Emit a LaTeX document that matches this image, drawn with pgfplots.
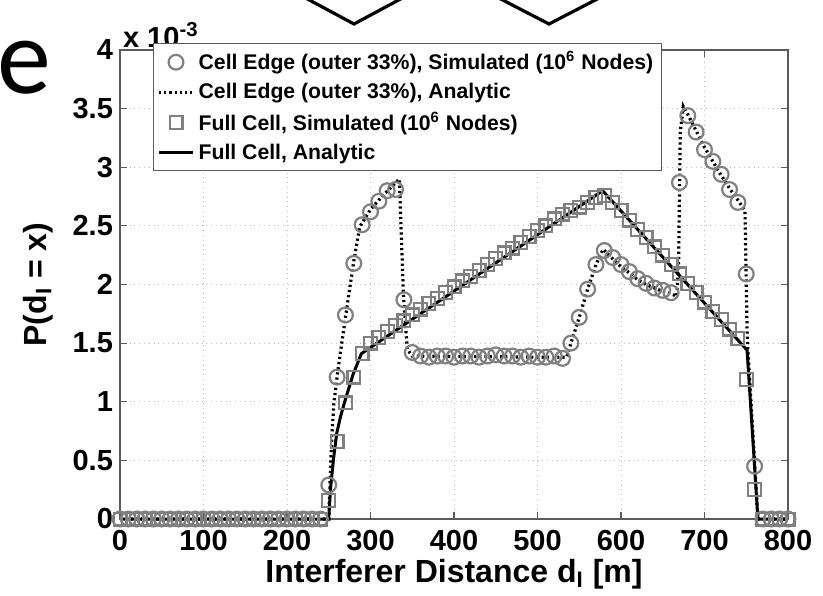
\documentclass[border=0pt]{standalone}
\usepackage{pgfplots}
\pgfplotsset{compat=1.18}
\usepackage{fontspec}
\setmainfont{Liberation Sans}
\newfontfamily\slidefont{Carlito}
\definecolor{mgrey}{RGB}{128,128,128}
\definecolor{axgrey}{RGB}{90,90,90}
\begin{document}
\begin{tikzpicture}
\begin{scope}[x=0.5pt,y=0.5pt]
\useasboundingbox (0,0) rectangle (823,593);
\draw[line width=1.6pt] (300,598) -- (354,569) -- (408,598);
\draw[line width=1.6pt] (493,598) -- (549,569) -- (605,598);
\node[anchor=base west, inner sep=0pt, font=\slidefont\fontsize{54}{54}\selectfont] at (-3,500) {e};
\end{scope}
\begin{axis}[
  at={(60pt,37pt)}, anchor=south west,
  width=334pt, height=234.5pt, scale only axis,
  xmin=0, xmax=800, ymin=0, ymax=4,
  xtick={0,100,...,800}, ytick={0,0.5,...,4},
  clip=false,
  tick align=inside, major tick length=3.5pt,
  grid=major, major grid style={dotted, gray!55, line width=0.5pt},
  axis line style={axgrey, line width=0.7pt},
  every tick/.style={axgrey, line width=0.6pt},
  tick label style={font=\fontsize{14.5}{14.5}\selectfont\bfseries, text=black},
  xticklabel style={yshift=-2pt},
  /pgf/number format/assume math mode=true,
  xlabel={Interferer Distance d\textsubscript{I} [m]},
  ylabel={P(d\textsubscript{I} = x)},
  label style={font=\fontsize{16}{16}\selectfont\bfseries},
  xlabel style={at={(axis description cs:0.5,-0.118)}, anchor=center},
  ylabel style={at={(axis description cs:-0.123,0.5)}, anchor=center, rotate=0},
  legend cell align=left,
  legend style={at={(0.049,1.015)}, anchor=north west, draw=axgrey, line width=0.6pt,
    font=\fontsize{10.6}{12}\selectfont\bfseries, row sep=1.2pt, inner sep=2pt},
]
\addplot[only marks, mark=o, mark size=3.7pt, mark options={draw=mgrey, line width=1.1pt}] coordinates {
(0,0)(10,0)(20,0)(30,0)(40,0)(50,0)(60,0)(70,0)(80,0)(90,0)(100,0)(110,0)(120,0)(130,0)(140,0)(150,0)(160,0)(170,0)(180,0)(190,0)(200,0)(210,0)(220,0)(230,0)(240,0)
(250,0.29)(260,1.21)(270,1.74)(280,2.18)(290,2.51)(300,2.62)(310,2.71)(320,2.80)(330,2.81)(340,1.87)
(350,1.42)(360,1.39)(370,1.38)(380,1.39)(390,1.39)(400,1.38)(410,1.39)(420,1.39)(430,1.38)(440,1.39)
(450,1.40)(460,1.39)(470,1.39)(480,1.38)(490,1.39)(500,1.38)(510,1.38)(520,1.39)(530,1.37)
(540,1.50)(550,1.72)(560,1.96)(570,2.17)(580,2.29)(590,2.23)(600,2.17)(610,2.11)(620,2.05)(630,2.01)
(640,1.97)(650,1.95)(660,1.93)(670,2.87)(680,3.44)(690,3.30)(700,3.15)(710,3.05)(720,2.94)(730,2.81)
(740,2.70)(750,2.09)(760,0.45)(770,0)(780,0)(790,0)(800,0)
};
\addlegendentry{Cell Edge (outer 33\%), Simulated (10\textsuperscript{6} Nodes)}
\addplot[black, line width=1.6pt, dash pattern=on 1.1pt off 1.5pt] coordinates {
(0,0)(250,0)(251,0.2)(253,0.6)(256,0.98)(261,1.27)(270,1.72)(280,2.2)(287,2.49)(300,2.64)(315,2.76)(334.5,2.9)
(339.5,1.9)(344,1.45)(350,1.39)(400,1.385)(450,1.385)(500,1.38)(535,1.38)
(540,1.5)(550,1.72)(560,1.96)(570,2.17)(578.5,2.30)(590,2.22)(600,2.15)(610,2.10)(620,2.04)(630,2.00)
(640,1.97)(650,1.94)(660,1.92)(667,1.90)(669,2.2)(671,3.3)(674.5,3.52)
(680,3.45)(690,3.31)(700,3.17)(710,3.05)(720,2.93)(730,2.82)(740,2.72)(748.5,2.63)(751,1.6)(752,1.44)(764,0)(800,0)
};
\addlegendentry{Cell Edge (outer 33\%), Analytic}
\addplot[only marks, mark=square, mark size=3.2pt, mark options={draw=mgrey, line width=1.1pt}] coordinates {
(0,0)(10,0)(20,0)(30,0)(40,0)(50,0)(60,0)(70,0)(80,0)(90,0)(100,0)(110,0)(120,0)(130,0)(140,0)(150,0)(160,0)(170,0)(180,0)(190,0)(200,0)(210,0)(220,0)(230,0)(240,0)
(250,0.16)(260,0.66)(270,0.99)(280,1.21)(290,1.41)(300,1.50)(310,1.55)(320,1.60)(330,1.65)(340,1.69)
(350,1.74)(360,1.79)(370,1.84)(380,1.88)(390,1.93)(400,1.98)(410,2.03)(420,2.07)(430,2.12)(440,2.17)
(450,2.22)(460,2.27)(470,2.31)(480,2.36)(490,2.41)(500,2.46)(510,2.50)(520,2.56)(530,2.60)(540,2.63)
(550,2.66)(560,2.70)(570,2.74)(580,2.76)(590,2.70)(600,2.63)(610,2.55)(620,2.47)(630,2.40)(640,2.32)
(650,2.25)(660,2.17)(670,2.09)(680,2.01)(690,1.93)(700,1.85)(710,1.77)(720,1.70)(730,1.62)(740,1.54)
(750,1.19)(760,0.25)(770,0)(780,0)(790,0)(800,0)
};
\addlegendentry{Full Cell, Simulated (10\textsuperscript{6} Nodes)}
\addplot[black, line width=1.5pt] coordinates {
(0,0)(250,0)(252,0.25)(255.5,0.5)(259.5,0.73)(264,0.87)(269.5,1.01)(279,1.23)(289,1.41)(578,2.80)(751,1.44)(764,0)(800,0)
};
\addlegendentry{Full Cell, Analytic}
\node[anchor=base west, inner sep=0pt, font=\fontsize{14.5}{14.5}\selectfont\bfseries] at (rel axis cs:0.004,1.006) {x 10\textsuperscript{-3}};
\end{axis}
\end{tikzpicture}
\end{document}
